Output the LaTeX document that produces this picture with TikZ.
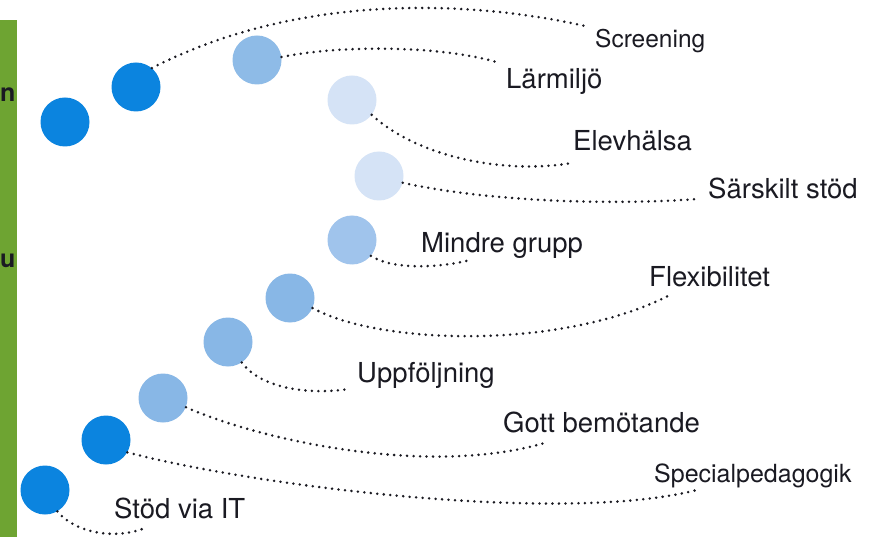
\documentclass[tikz,border=0pt]{standalone}
\usepackage{fontspec}
\setmainfont{TeX Gyre Heros}
\definecolor{barGreen}{HTML}{6EA432}
\definecolor{deepBlue}{HTML}{0B84DF}
\definecolor{midBlue}{HTML}{88B7E6}
\definecolor{softBlue}{HTML}{A0C4EC}
\definecolor{paleBlue}{HTML}{D5E3F6}
\definecolor{inkDark}{HTML}{1A1A22}

\begin{document}
\begin{tikzpicture}[x=1pt,y=-1pt,
            bubble/.style={circle,inner sep=0pt,minimum size=49pt},
            dotline/.style={draw=inkDark,line width=2.8pt,line cap=round,dash pattern=on 0pt off 6.5pt},
            lbl/.style={anchor=base west,inner sep=0pt,text=inkDark,font=\fontsize{27.5}{30}\selectfont},
            cutlbl/.style={anchor=base west,inner sep=0pt,text=inkDark,font=\bfseries\fontsize{25}{28}\selectfont}
            ]
            \fill[white] (0,0) rectangle (888,537);
            \useasboundingbox (0,0) rectangle (888,537);
            % green edge with the cut-off words
            \fill[barGreen] (0,20) rectangle (17,537);
            \node[cutlbl] (cutn) at (0,102) {n};
            \node[cutlbl] (cutu) at (0,267) {u};
            % circles
            \node[bubble,fill=deepBlue] (c1) at (65,122) {};
            \node[bubble,fill=deepBlue] (c2) at (136,87) {};
            \node[bubble,fill=midBlue!95!white] (c3) at (257,60) {};
            \node[bubble,fill=paleBlue] (c4) at (352,100) {};
            \node[bubble,fill=paleBlue] (c5) at (379,176) {};
            \node[bubble,fill=softBlue] (c6) at (352,240) {};
            \node[bubble,fill=midBlue] (c7) at (290,298) {};
            \node[bubble,fill=midBlue] (c8) at (228,342) {};
            \node[bubble,fill=midBlue] (c9) at (163,398) {};
            \node[bubble,fill=deepBlue] (c10) at (106,440) {};
            \node[bubble,fill=deepBlue] (c11) at (45,490) {};
            % labels
            \node[lbl,font=\fontsize{24.5}{28}\selectfont] (screening) at (595,48) {Screening};
            \node[lbl] (larmiljo) at (506,89) {Lärmiljö};
            \node[lbl] (elevhalsa) at (573,151) {Elevhälsa};
            \node[lbl] (sarskilt) at (708,199) {Särskilt stöd};
            \node[lbl] (mindre) at (421,252) {Mindre grupp};
            \node[lbl] (flex) at (649,286) {Flexibilitet};
            \node[lbl] (uppf) at (357,382) {Uppföljning};
            \node[lbl] (gott) at (503,432) {Gott bemötande};
            \node[lbl,font=\fontsize{25}{28}\selectfont] (special) at (654,482) {Specialpedagogik};
            \node[lbl] (viait) at (114,518) {Stöd via IT};
            % loose ends of the dotted lines
            \coordinate (e1) at (585,26);
            \coordinate (e2) at (500,63);
            \coordinate (e3) at (572,163);
            \coordinate (e4) at (698,199);
            \coordinate (e5) at (470,260);
            \coordinate (e6) at (668,296);
            \coordinate (e7) at (349,389);
            \coordinate (e8) at (548,442);
            \coordinate (e9) at (697,490);
            \coordinate (e10) at (145,528);
            % dotted connectors
            \draw[dotline] (c2.50) .. controls (298,-7) and (470,0) .. (e1);
            \draw[dotline] (c3.7) .. controls (340,45) and (440,45) .. (e2);
            \draw[dotline] (c4.-37) .. controls (415,155) and (500,175) .. (e3);
            \draw[dotline] (c5.-16) .. controls (480,200) and (600,206) .. (e4);
            \draw[dotline] (c6.-40) .. controls (392,270) and (440,268) .. (e5);
            \draw[dotline] (c7.-24) .. controls (380,345) and (560,350) .. (e6);
            \draw[dotline] (c8.-56) .. controls (258,385) and (300,396) .. (e7);
            \draw[dotline] (c9.-22) .. controls (260,440) and (430,478) .. (e8);
            \draw[dotline] (c10.-30) .. controls (250,485) and (560,525) .. (e9);
            \draw[dotline] (c11.-60) .. controls (75,533) and (115,540) .. (e10);
        \end{tikzpicture}
\end{document}
